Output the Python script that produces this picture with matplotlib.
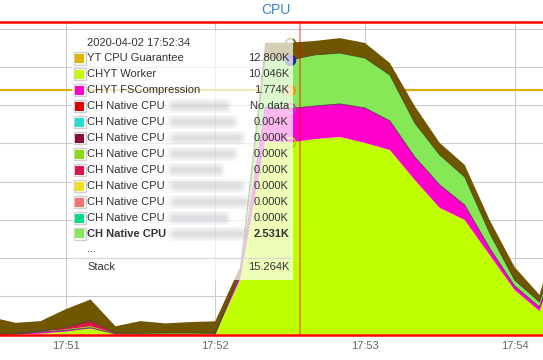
import numpy as np
import pandas as pd
import matplotlib
matplotlib.use('Agg')
import matplotlib.pyplot as plt
import matplotlib.dates as mdates
from matplotlib.patches import Rectangle

plt.rcParams['font.family'] = ['Liberation Sans', 'DejaVu Sans']

# samples every 10 s, 17:50:30 .. 17:54:20
times = pd.date_range('2020-04-02 17:50:30', '2020-04-02 17:54:20', freq='10s')
cursor = pd.Timestamp('2020-04-02 17:52:34')
hover_idx = 12  # 17:52:30

guarantee = 12.8  # K

# values in K
chyt_worker = [0, 0, 0.05, 0.15, 0.32, 0.02, 0, 0, 0.01, 0.02, 2.9, 10.1,
               10.046, 10.22, 10.33, 10.02, 9.65, 8.08, 6.62, 5.99, 4.16, 2.33, 1.23, 4.8]
chyt_fscompr = [0, 0.02, 0.08, 0.06, 0.03, 0.01, 0.01, 0.01, 0.01, 0.01, 0.25, 1.8,
                1.774, 1.73, 1.73, 1.83, 1.52, 1.2, 1.2, 0.78, 0.36, 0.21, 0.21, 0.4]
ch_red = [None] * 24
ch_cyan = [0, 0, 0, 0, 0, 0, 0, 0, 0, 0, 0, 0.004,
           0.004, 0.004, 0, 0, 0, 0, 0, 0, 0, 0, 0, 0]
ch_maroon = [0.0] * 24
ch_yellowgreen = [0.02, 0.02, 0.03, 0.05, 0.08, 0.02, 0.05, 0.07, 0.07, 0.04, 0, 0,
                  0, 0, 0, 0, 0, 0, 0, 0, 0, 0, 0, 0]
ch_crimson = [0, 0, 0.02, 0.1, 0.28, 0.02, 0, 0, 0, 0, 0, 0,
              0, 0, 0, 0, 0, 0, 0, 0, 0, 0, 0, 0]
ch_yellow = [0.0] * 24
ch_salmon = [0.0] * 24
ch_spring = [0.0] * 24
ch_green = [0, 0, 0, 0, 0, 0, 0, 0, 0, 0, 0.1, 2.6,
            2.531, 2.67, 2.66, 2.61, 2.40, 1.78, 1.57, 1.47, 0.79, 0.31, 0.26, 0.5]
others = [0.89, 0.57, 0.52, 0.96, 1.12, 0.36, 0.64, 0.5, 0.56, 0.62, 0.3, 0.75,
          0.909, 0.73, 0.78, 0.79, 0.63, 0.88, 0.63, 0.63, 0.68, 0.68, 0.37, 0.8]

names = ['CHYT Worker', 'CHYT FSCompression'] + ['CH Native CPU'] * 9
colors = ['#bfff00', '#ff00cc', '#e00000', '#22ddd2', '#8b0a3c', '#88dd11',
          '#dd1448', '#f2e01e', '#f87070', '#00dd88', '#86e856']
stack = [chyt_worker, chyt_fscompr, ch_red, ch_cyan, ch_maroon, ch_yellowgreen,
         ch_crimson, ch_yellow, ch_salmon, ch_spring, ch_green]
blur_ends = [None, None, 233, 240, 248, 240, 226, 248, 253, 232, 250]

fig = plt.figure(figsize=(5.43, 3.6), dpi=100)
ax = fig.add_axes([0, 25.5 / 360, 1, 313 / 360])

x = mdates.date2num(times.to_pydatetime())
ax.axhline(guarantee, color='#dcb000', lw=1.6, zorder=1)

base = np.zeros(len(x))
tops = []
for vals, c in zip(stack + [others], colors + ['#705600']):
    v = np.array([0 if a is None else a for a in vals], dtype=float)
    ax.fill_between(x, base, base + v, color=c, lw=0, zorder=2)
    base = base + v
    tops.append(base.copy())

# thin outlines on the stack tops
ax.plot(x, tops[1], color='#3a1a40', lw=0.6, alpha=0.8, zorder=3)
ax.plot(x, tops[10], color='#2a3a20', lw=0.6, alpha=0.8, zorder=3)

# hover markers
hx = x[hover_idx]
for yv, ec, fc in [(tops[11][hover_idx], '#705600', 'none'),
                   (tops[10][hover_idx], '#2b1d8f', '#3b2d9f'),
                   (guarantee, '#e0a000', '#f0b020'),
                   (tops[1][hover_idx], '#b050b0', 'none'),
                   (tops[0][hover_idx], '#a0d000', 'none')]:
    ax.plot(hx, yv, 'o', ms=7, mfc=fc, mec=ec, mew=1.2, zorder=4, clip_on=False)

ax.axvline(mdates.date2num(cursor.to_pydatetime()), color='red', alpha=0.45, lw=1.3, zorder=5)

t0 = pd.Timestamp('2020-04-02 17:50:33.7')
t1 = pd.Timestamp('2020-04-02 17:54:11.4')
ax.set_xlim(mdates.date2num(t0.to_pydatetime()), mdates.date2num(t1.to_pydatetime()))
ax.set_ylim(0, 16.37)
ax.set_yticks(np.arange(0, 17, 2))
ax.xaxis.set_major_locator(mdates.MinuteLocator())
ax.xaxis.set_major_formatter(mdates.DateFormatter('%H:%M'))
ax.tick_params(axis='x', length=0, pad=5, labelsize=8, labelcolor='#666666')
ax.tick_params(axis='y', length=0, labelleft=False)
ax.grid(True, color='#cccccc', lw=0.8)
ax.set_axisbelow(True)
for s in ['left', 'right']:
    ax.spines[s].set_visible(False)
for s in ['top', 'bottom']:
    ax.spines[s].set_color('#ff0000')
    ax.spines[s].set_linewidth(1.8)
    ax.spines[s].set_zorder(6)

fig.text(275.5 / 543, 1 - 10 / 360, 'CPU', ha='center', va='center',
         fontsize=10, color='#3c82cc')

# tooltip, drawn in pixel coordinates
ov = fig.add_axes([0, 0, 1, 1], zorder=5)
ov.set_xlim(0, 543)
ov.set_ylim(360, 0)
ov.axis('off')
ov.patch.set_alpha(0)

ov.add_patch(Rectangle((72, 31), 221, 249, facecolor='white', alpha=0.72, lw=0))


def smudge(x0, x1, yc, h=14):
    # blurred-out instance name
    nx, ny = 80, 28
    u = np.linspace(0, 1, nx)
    v = np.linspace(-1, 1, ny)
    px = np.clip(np.minimum(u, 1 - u) / 0.1, 0, 1)
    py = np.exp(-(v / 0.85) ** 2)
    img = np.zeros((ny, nx, 4))
    img[..., :3] = (0.66, 0.66, 0.7)
    img[..., 3] = np.outer(py, px) * 0.38
    ov.imshow(img, extent=(x0, x1, yc + h / 2, yc - h / 2), aspect='auto',
              interpolation='bilinear', zorder=3)


txt = dict(fontsize=8, color='#333333', va='center')
ov.text(87, 42.5, '2020-04-02 17:52:34', ha='left', **txt)

rows = [('YT CPU Guarantee', '#e0b400', guarantee, None)]
rows += [(n, c, s[hover_idx], b) for n, c, s, b in zip(names, colors, stack, blur_ends)]
for i, (name, c, val, bend) in enumerate(rows):
    y = 58.3 + 15.97 * i
    bold = i == len(rows) - 1
    ov.add_patch(Rectangle((73.5, y - 6.3), 12.5, 12.5, facecolor='white',
                           edgecolor='#d0d0d0', lw=1, zorder=2))
    ov.add_patch(Rectangle((75.3, y - 4.5), 9, 9, facecolor=c, lw=0, zorder=3))
    fw = 'bold' if bold else 'normal'
    ov.text(87, y, name, ha='left', fontweight=fw, **txt)
    label = 'No data' if val is None else f'{val:.3f}K'
    ov.text(289, y, label, ha='right', fontweight=fw, **txt)
    if bend is not None:
        smudge(166, bend, y)

ov.text(87, 249.5, '...', ha='left', **txt)
ov.plot([73, 293], [258, 258], color='#d8d8d8', lw=0.8)
ov.text(87, 267, 'Stack', ha='left', **txt)
ov.text(289, 267, f'{tops[11][hover_idx]:.3f}K', ha='right', **txt)

fig.savefig('out.png', dpi=100)
